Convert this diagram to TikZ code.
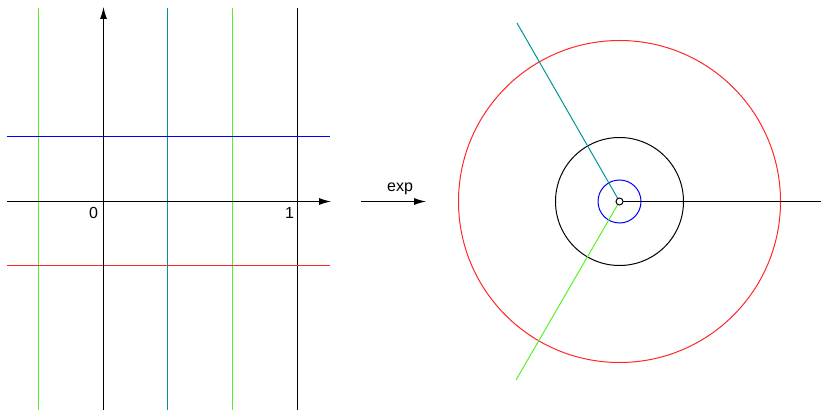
\documentclass[tikz,border=0pt]{standalone}
\usepackage{fontspec}
\setmainfont{Liberation Sans}
\usetikzlibrary{arrows.meta}
\definecolor{lgreen}{RGB}{90,240,40}
\definecolor{tealc}{RGB}{0,150,150}
\definecolor{bluec}{RGB}{0,0,255}
\definecolor{redc}{RGB}{255,40,40}
\begin{document}
\begin{tikzpicture}[x=1pt,y=-1pt,line width=1pt,
  axis/.style={draw=black,-{Latex[length=12pt,width=7pt]}},
  lbl/.style={font=\fontsize{16}{16}\selectfont,inner sep=0pt}]
\useasboundingbox (0,0) rectangle (821,411);
% left plane coordinates
\coordinate (xs) at (7,201.5);
\coordinate (xe) at (331,201.5);
\coordinate (ys) at (103.5,410);
\coordinate (ye) at (103.5,7);
% vertical lines
\coordinate (g1a) at (38.5,8); \coordinate (g1b) at (38.5,410);
\coordinate (t1a) at (167.5,8); \coordinate (t1b) at (167.5,410);
\coordinate (g2a) at (232.5,8); \coordinate (g2b) at (232.5,410);
\coordinate (k1a) at (297.5,8); \coordinate (k1b) at (297.5,410);
\draw[lgreen] (g1a) -- (g1b);
\draw[tealc] (t1a) -- (t1b);
\draw[lgreen] (g2a) -- (g2b);
\draw[black] (k1a) -- (k1b);
% horizontal lines
\coordinate (ba) at (7,136.5); \coordinate (bb) at (330,136.5);
\coordinate (ra) at (7,265.5); \coordinate (rb) at (330,265.5);
\draw[bluec] (ba) -- (bb);
\draw[redc] (ra) -- (rb);
% axes
\draw[axis] (xs) -- (xe);
\draw[axis] (ys) -- (ye);
\node[lbl] (zero) at (93.5,213) {0};
\node[lbl] (one) at (289.5,213) {1};
% exp arrow
\coordinate (ea) at (361,201.5);
\coordinate (eb) at (426,201.5);
\draw[axis] (ea) -- (eb);
\node[lbl] (exp) at (400,189) {exp};
% right plane
\coordinate (c) at (619.5,201.5);
\draw[redc] (c) circle[radius=161];
\draw[black] (c) circle[radius=64];
\draw[bluec] (c) circle[radius=21.5];
\coordinate (tr) at (517,23);
\coordinate (gr) at (516,380);
\coordinate (kr) at (821,201.5);
\draw[tealc] (c) -- (tr);
\draw[lgreen] (c) -- (gr);
\draw[black] (c) -- (kr);
\node[circle,draw=black,fill=white,line width=1pt,minimum size=7pt,inner sep=0pt] (o) at (c) {};
\end{tikzpicture}
\end{document}
